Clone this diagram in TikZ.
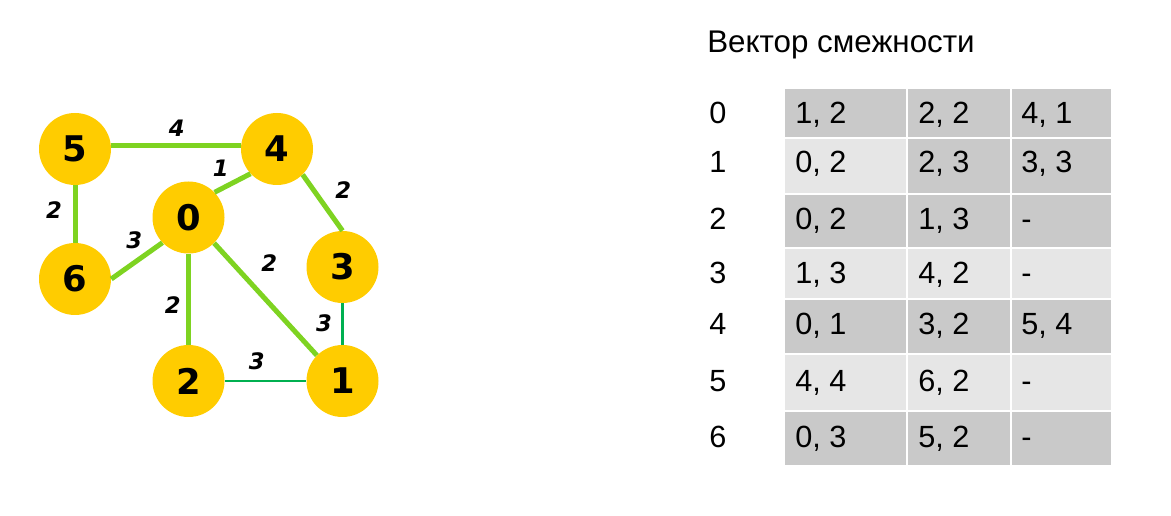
\documentclass[tikz,border=0pt]{standalone}
\usepackage{fontspec}
\setmainfont{Liberation Sans}
\newfontfamily\djv{DejaVu Sans}
\usepackage{xcolor}
\usepackage{tikz}

\definecolor{gold}{RGB}{255,204,0}
\definecolor{lime}{RGB}{126,211,33}
\definecolor{dgreen}{RGB}{0,176,80}
\definecolor{dk}{RGB}{201,201,201}
\definecolor{lt}{RGB}{230,230,230}

\begin{document}
\begin{tikzpicture}[x=0.75pt,y=-0.75pt,
 vert/.style={circle,fill=gold,minimum size=54pt,inner sep=0pt,font=\djv\bfseries\fontsize{26.5}{27}\selectfont},
 edg/.style={draw=lime,line width=3.75pt},
 edgthin/.style={draw=dgreen,line width=1.9pt},
 wt/.style={font=\djv\bfseries\itshape\fontsize{17}{17}\selectfont},
 cell/.style={draw=white,line width=1.5pt},
 txt/.style={anchor=base west,inner sep=0pt,font=\fontsize{23}{24}\selectfont}]
\useasboundingbox (0,0) rectangle (1171,516);
% graph
\node[vert] (n5) at (75,149) {5};
\node[vert] (n4) at (277,149) {4};
\node[vert] (n0) at (188.5,217.5) {0};
\node[vert] (n6) at (75,279) {6};
\node[vert] (n3) at (342.5,267) {3};
\node[vert] (n2) at (188.5,381) {2};
\node[vert] (n1) at (342.5,381) {1};
\draw[edg] (n5.6)--(n4.174) node[wt] at (176.7,128) {4};
\draw[edg] (n0.44)--(n4.223) node[wt] at (220.7,168.3) {1};
\draw[edg] (n4.315)--(n3.north) node[wt] at (343.3,190) {2};
\draw[edg] (n5.south)--(n6.north) node[wt] at (54,210) {2};
\draw[edg] (n0.224)--(n6.east) node[wt] at (134.3,240) {3};
\draw[edg] (n0.315)--(n1.135) node[wt] at (269.3,263.3) {2};
\draw[edg] (n0.south)--(n2.north) node[wt] at (172.7,305) {2};
\draw[edgthin] (n3.south)--(n1.north) node[wt] at (324,323.3) {3};
\draw[edgthin] (n2.east)--(n1.west) node[wt] at (256.7,361.7) {3};
% table
\node[anchor=base west,inner sep=0pt,font=\fontsize{23.5}{25}\selectfont] (title) at (707,52.5) {Вектор смежности};
\foreach \row/\yt/\yb/\yl/\fa/\fb/\fc/\ka/\kb/\kc in {
 0/88/138/123.5/dk/dk/dk/{1, 2}/{2, 2}/{4, 1},
 1/138/194/173/lt/dk/dk/{0, 2}/{2, 3}/{3, 3},
 2/194/248/230/dk/dk/dk/{0, 2}/{1, 3}/{-},
 3/248/299/284/lt/lt/lt/{1, 3}/{4, 2}/{-},
 4/299/354/335/dk/dk/dk/{0, 1}/{3, 2}/{5, 4},
 5/354/411/392/lt/lt/lt/{4, 4}/{6, 2}/{-},
 6/411/466/447/dk/dk/dk/{0, 3}/{5, 2}/{-}}
{
 \filldraw[cell,fill=\fa] (784,\yt) rectangle (907,\yb);
 \filldraw[cell,fill=\fb] (907,\yt) rectangle (1011,\yb);
 \filldraw[cell,fill=\fc] (1011,\yt) rectangle (1112,\yb);
 \node[txt] (r\row) at (709,\yl) {\row};
 \node[txt] (c\row-1) at (795,\yl) {\ka};
 \node[txt] (c\row-2) at (918,\yl) {\kb};
 \node[txt] (c\row-3) at (1021,\yl) {\kc};
}
\end{tikzpicture}
\end{document}
